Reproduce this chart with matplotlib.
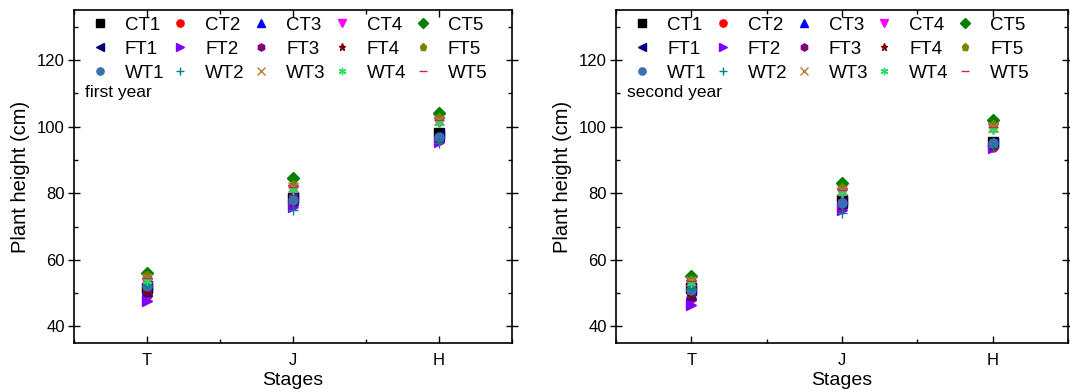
import matplotlib
matplotlib.use("Agg")
from matplotlib import pyplot as plt
from matplotlib.ticker import MultipleLocator

plt.rcParams['font.family'] = ['Liberation Sans', 'DejaVu Sans']

stages = ["T", "J", "H"]
names = ["CT1", "CT2", "CT3", "CT4", "CT5",
         "FT1", "FT2", "FT3", "FT4", "FT5",
         "WT1", "WT2", "WT3", "WT4", "WT5"]

# plant height (cm) at T, J, H for each treatment
year1 = {
    "CT1": [51.5, 78.5, 98.0], "CT2": [49.5, 77.0, 96.0], "CT3": [50.5, 78.0, 97.0],
    "CT4": [53.0, 81.0, 101.5], "CT5": [56.0, 84.5, 104.0],
    "FT1": [52.0, 79.0, 97.5], "FT2": [47.5, 76.0, 95.5], "FT3": [51.0, 79.0, 96.5],
    "FT4": [50.5, 77.5, 96.5], "FT5": [55.0, 82.5, 102.5],
    "WT1": [52.0, 78.0, 97.0], "WT2": [52.5, 75.0, 95.0], "WT3": [54.5, 82.0, 102.0],
    "WT4": [53.5, 81.0, 101.0], "WT5": [54.5, 82.0, 102.0],
}
year2 = {
    "CT1": [51.5, 78.0, 95.5], "CT2": [48.5, 76.0, 94.0], "CT3": [49.5, 77.0, 95.0],
    "CT4": [52.5, 80.0, 99.5], "CT5": [55.0, 83.0, 102.0],
    "FT1": [51.0, 77.5, 95.0], "FT2": [46.5, 75.0, 93.5], "FT3": [50.0, 77.5, 94.5],
    "FT4": [49.5, 76.5, 94.5], "FT5": [54.0, 81.5, 100.5],
    "WT1": [51.0, 77.0, 95.0], "WT2": [51.5, 74.0, 94.0], "WT3": [53.5, 81.0, 100.0],
    "WT4": [53.0, 80.0, 99.0], "WT5": [53.5, 81.0, 100.0],
}

styles = {
    "CT1": ("s", "black"), "CT2": ("o", "red"), "CT3": ("^", "blue"),
    "CT4": ("v", "magenta"), "CT5": ("D", "#008000"),
    "FT1": ("<", "#000080"), "FT2": (">", "#8000ff"), "FT3": ("h", "#800080"),
    "FT4": ("*", "#800000"), "FT5": ("p", "#808000"),
    "WT1": ("o", "#3a6fb0"), "WT2": ("+", "#008080"), "WT3": ("x", "#c07830"),
    "WT4": ((6, 2, 0), "#20e060"), "WT5": ("_", "#d0207a"),
}

fig = plt.figure(figsize=(10.7, 3.9), dpi=100)
ax1 = fig.add_axes([0.069, 0.1205, 0.4095, 0.8535])
ax2 = fig.add_axes([0.5757, 0.1205, 0.4225, 0.8535])

for ax, data, label, ylx in [(ax1, year1, "first year", -0.100),
                             (ax2, year2, "second year", -0.098)]:
    handles = {}
    for n in names:
        m, c = styles[n]
        h, = ax.plot([1, 2, 3], data[n], linestyle="none", marker=m, color=c,
                     markersize=6.5, label=n, markeredgewidth=1)
        handles[n] = h
    ax.set_xlim(0.5, 3.5)
    ax.set_ylim(35, 135)
    ax.set_xticks([1, 2, 3])
    ax.set_xticklabels(stages)
    ax.xaxis.set_minor_locator(MultipleLocator(0.5))
    ax.set_yticks([40, 60, 80, 100, 120])
    ax.yaxis.set_minor_locator(MultipleLocator(10))
    ax.tick_params(which="both", direction="in", top=True, right=True, labelsize=12)
    ax.tick_params(axis="x", which="major", length=5, width=1, pad=7)
    ax.tick_params(axis="y", which="major", direction="inout", length=9, width=1, pad=2)
    ax.tick_params(which="minor", length=3, width=1)
    for s in ax.spines.values():
        s.set_linewidth(1.2)
    ax.set_xlabel("Stages", fontsize=14)
    ax.xaxis.set_label_coords(0.5, -0.088)
    ax.set_ylabel("Plant height (cm)", fontsize=14.5)
    ax.yaxis.set_label_coords(ylx, 0.5)
    # legend reads row by row, matplotlib fills by column
    order = [names[r * 5 + c] for c in range(5) for r in range(3)]
    ax.legend([handles[n] for n in order], order, ncol=5, loc="upper left",
              frameon=False, fontsize=13.5, handlelength=1.0, markerscale=0.8,
              handletextpad=0.83, columnspacing=0.37, labelspacing=0.36,
              borderpad=0.36, borderaxespad=0, bbox_to_anchor=(0.022, 1.0))
    ax.text(0.025, 0.754, label, transform=ax.transAxes, fontsize=12.5, va="center")

fig.savefig("out.png", dpi=100)
